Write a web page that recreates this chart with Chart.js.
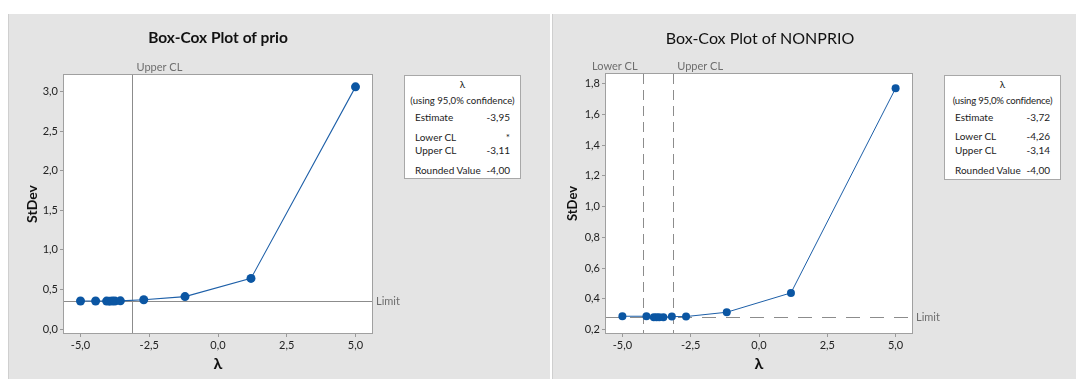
<!DOCTYPE html>
<html>
<head>
<meta charset="utf-8">
<script src="https://cdn.jsdelivr.net/npm/chart.js@4/dist/chart.umd.min.js"></script>
<style>
  body { margin: 0; width: 1076px; height: 379px; background: #fff; position: relative; overflow: hidden; font-family: Lato, "Open Sans", sans-serif; }
  .panel { position: absolute; top: 14px; height: 365px; background: #e4e4e4; border-left: 1px solid #cfcfcf; }
  .panel canvas { position: absolute; left: 0; top: 0; }
  .title { position: absolute; top: 14px; width: 420px; text-align: center; color: #111; white-space: nowrap; }
  .stats { position: absolute; top: 61px; width: 115px; height: 102px; background: #fff; border: 1px solid #a8a8a8; font-size: 10px; color: #222; }
  .stats div { position: absolute; white-space: nowrap; }
  .stats .c { left: 0; right: 0; text-align: center; }
  .stats .l { left: 10px; }
  .stats .r { right: 10px; text-align: right; }
</style>
</head>
<body>
<div class="panel" id="p1" style="left:8px;width:541px;">
  <canvas id="c1" width="541" height="365"></canvas>
  <div class="title" style="left:-1px;font-size:15.5px;font-weight:bold;">Box-Cox Plot of prio</div>
  <div class="stats" style="left:395px;">
    <div class="c" style="top:2px;">λ</div>
    <div class="c" style="top:19px;font-size:9.6px;">(using 95,0% confidence)</div>
    <div class="l" style="top:35px;">Estimate</div><div class="r" style="top:35px;">-3,95</div>
    <div class="l" style="top:55px;">Lower CL</div><div class="r" style="top:55px;">*</div>
    <div class="l" style="top:68px;">Upper CL</div><div class="r" style="top:68px;">-3,11</div>
    <div class="l" style="top:88px;">Rounded Value</div><div class="r" style="top:88px;">-4,00</div>
  </div>
</div>
<div class="panel" id="p2" style="left:552px;width:523px;">
  <canvas id="c2" width="523" height="365"></canvas>
  <div class="title" style="left:-3px;font-size:16px;">Box-Cox Plot of NONPRIO</div>
  <div class="stats" style="left:391px;height:103px;">
    <div class="c" style="top:2px;">λ</div>
    <div class="c" style="top:19px;font-size:9.6px;letter-spacing:-0.2px;">(using 95,0% confidence)</div>
    <div class="l" style="top:35px;">Estimate</div><div class="r" style="top:35px;">-3,72</div>
    <div class="l" style="top:54px;">Lower CL</div><div class="r" style="top:54px;">-4,26</div>
    <div class="l" style="top:68px;">Upper CL</div><div class="r" style="top:68px;">-3,14</div>
    <div class="l" style="top:88px;">Rounded Value</div><div class="r" style="top:88px;">-4,00</div>
  </div>
</div>
<script>
// data
const xTicks = [-5, -2.5, 0, 2.5, 5];

const prioLambda = [-5, -4.45, -4.05, -3.95, -3.85, -3.75, -3.55, -2.7, -1.2, 1.2, 5];
const prioStDev = [0.355, 0.355, 0.353, 0.352, 0.353, 0.354, 0.356, 0.37, 0.41, 0.64, 3.06];
const prioYTicks = [0, 0.5, 1, 1.5, 2, 2.5, 3];
const prioUpperCL = -3.11;
const prioLimit = 0.357;

const nonprioLambda = [-5, -4.12, -3.85, -3.75, -3.65, -3.5, -3.19, -2.67, -1.18, 1.17, 5];
const nonprioStDev = [0.287, 0.287, 0.281, 0.28, 0.28, 0.281, 0.285, 0.285, 0.313, 0.439, 1.77];
const nonprioYTicks = [0.2, 0.4, 0.6, 0.8, 1.0, 1.2, 1.4, 1.6, 1.8];
const nonprioLowerCL = -4.26;
const nonprioUpperCL = -3.14;
const nonprioLimit = 0.282;

const comma = v => Number(v).toFixed(1).replace(".", ",");

// white plot area, reference lines, labels and frame
const refPlugin = {
  id: "refs",
  beforeDraw(chart) {
    const a = chart.chartArea, ctx = chart.ctx;
    ctx.save();
    ctx.fillStyle = "#fff";
    ctx.fillRect(a.left, a.top, a.right - a.left, a.bottom - a.top);
    ctx.restore();
  },
  beforeDatasetsDraw(chart, args, opts) {
    const a = chart.chartArea, ctx = chart.ctx;
    const xs = chart.scales.x, ys = chart.scales.y;
    ctx.save();
    ctx.strokeStyle = "#8c8c8c";
    ctx.lineWidth = 1;
    ctx.setLineDash(opts.dash || []);
    opts.vlines.forEach(v => {
      const px = Math.round(xs.getPixelForValue(v.x)) + 0.5;
      ctx.beginPath(); ctx.moveTo(px, a.top); ctx.lineTo(px, a.bottom); ctx.stroke();
    });
    const py = Math.round(ys.getPixelForValue(opts.limit)) + 0.5;
    ctx.setLineDash(opts.limitDash || []);
    ctx.beginPath(); ctx.moveTo(a.left, py); ctx.lineTo(a.right, py); ctx.stroke();
    ctx.setLineDash([]);
    ctx.fillStyle = "#6e6e6e";
    ctx.font = "11px Lato, sans-serif";
    ctx.textBaseline = "middle";
    opts.vlines.forEach(v => {
      const px = xs.getPixelForValue(v.x);
      ctx.textAlign = v.side === "left" ? "right" : "left";
      ctx.fillText(v.label, v.side === "left" ? px - 5 : px + 4, a.top - 8);
    });
    ctx.textAlign = "left";
    ctx.fillText("Limit", a.right + 4, py);
    ctx.restore();
  },
  afterDraw(chart) {
    const a = chart.chartArea, ctx = chart.ctx;
    ctx.save();
    ctx.strokeStyle = "#a0a0a0";
    ctx.lineWidth = 1;
    ctx.strokeRect(a.left - 0.5, a.top - 0.5, a.right - a.left + 1, a.bottom - a.top + 1);
    ctx.restore();
  }
};

function makeChart(id, lambda, stdev, yTicks, yMin, yMax, refs, pad, yTitleFont, lineW, radius) {
  new Chart(document.getElementById(id), {
    type: "scatter",
    data: {
      datasets: [{
        data: lambda.map((x, i) => ({ x: x, y: stdev[i] })),
        showLine: true,
        borderColor: "#1d5fa8",
        backgroundColor: "#0b56a3",
        borderWidth: lineW,
        pointRadius: radius,
        pointBorderWidth: 0
      }]
    },
    options: {
      responsive: false,
      animation: false,
      devicePixelRatio: 1,
      layout: { padding: { left: pad.left, right: pad.right, top: pad.top, bottom: 4 } },
      plugins: { legend: { display: false }, tooltip: { enabled: false }, refs: refs },
      scales: {
        x: {
          type: "linear", min: -5.6, max: 5.6,
          afterBuildTicks: s => { s.ticks = xTicks.map(v => ({ value: v })); },
          afterFit: s => { s.height = 42; },
          grid: { display: true, drawOnChartArea: false, drawTicks: true, tickLength: 4, color: "#999" },
          border: { display: false },
          ticks: { color: "#222", font: { size: 11, family: "Lato" }, padding: 2, maxRotation: 0, callback: v => comma(v) },
          title: { display: true, text: "λ", color: "#111", font: { size: 16, weight: "bold", family: "Lato" }, padding: 2 }
        },
        y: {
          type: "linear", min: yMin, max: yMax,
          afterBuildTicks: s => { s.ticks = yTicks.map(v => ({ value: v })); },
          afterFit: s => { s.width = pad.yWidth; },
          grid: { display: true, drawOnChartArea: false, drawTicks: true, tickLength: 4, color: "#999" },
          border: { display: false },
          ticks: { color: "#222", font: { size: 11, family: "Lato" }, padding: 2, callback: v => comma(v) },
          title: { display: true, text: "StDev", color: "#111", font: yTitleFont, padding: 4 }
        }
      }
    },
    plugins: [refPlugin]
  });
}

makeChart("c1", prioLambda, prioStDev, prioYTicks, -0.05, 3.21,
  { vlines: [{ x: prioUpperCL, label: "Upper CL", side: "right" }], limit: prioLimit },
  { left: 11, right: 178, top: 61, yWidth: 44 },
  { size: 14, weight: "bold", family: "Lato" }, 1.1, 4.5);

makeChart("c2", nonprioLambda, nonprioStDev, nonprioYTicks, 0.178, 1.863,
  { vlines: [{ x: nonprioLowerCL, label: "Lower CL", side: "left" }, { x: nonprioUpperCL, label: "Upper CL", side: "right" }],
    limit: nonprioLimit, dash: [10, 6], limitDash: [14, 10] },
  { left: 8, right: 164, top: 60, yWidth: 45 },
  { size: 13, weight: "bold", family: "Lato" }, 1, 4);
</script>
</body>
</html>
